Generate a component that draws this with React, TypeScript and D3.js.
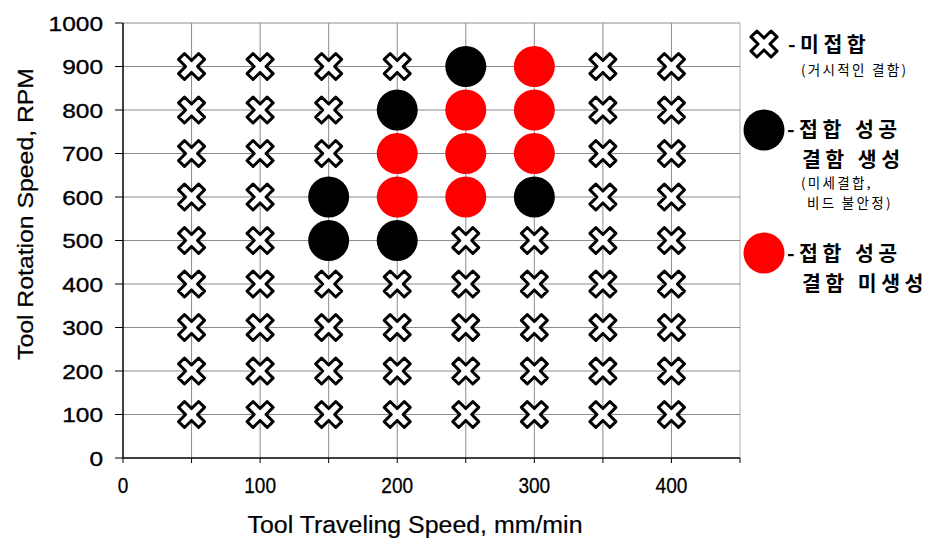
import React from "react";
import * as d3 from "d3";

// traveling speed (mm/min), rotation speed (rpm)
const xTicks = [0, 100, 200, 300, 400];
const yTicks = [0, 100, 200, 300, 400, 500, 600, 700, 800, 900, 1000];

// 미접합 (macro defects)
const crossPoints: [number, number][] = [
  [50, 100], [50, 200], [50, 300], [50, 400], [50, 500], [50, 600], [50, 700], [50, 800], [50, 900],
  [100, 100], [100, 200], [100, 300], [100, 400], [100, 500], [100, 600], [100, 700], [100, 800], [100, 900],
  [150, 100], [150, 200], [150, 300], [150, 400], [150, 700], [150, 800], [150, 900],
  [200, 100], [200, 200], [200, 300], [200, 400], [200, 900],
  [250, 100], [250, 200], [250, 300], [250, 400], [250, 500],
  [300, 100], [300, 200], [300, 300], [300, 400], [300, 500],
  [350, 100], [350, 200], [350, 300], [350, 400], [350, 500], [350, 600], [350, 700], [350, 800], [350, 900],
  [400, 100], [400, 200], [400, 300], [400, 400], [400, 500], [400, 600], [400, 700], [400, 800], [400, 900],
];

// 접합 성공, 결함 생성
const blackPoints: [number, number][] = [
  [150, 500], [150, 600], [200, 500], [200, 800], [250, 900], [300, 600],
];

// 접합 성공, 결함 미생성
const redPoints: [number, number][] = [
  [200, 600], [200, 700], [250, 600], [250, 700], [250, 800], [300, 700], [300, 800], [300, 900],
];

const W = 945;
const H = 546;
const margin = { left: 123, right: 205, top: 23, bottom: 88 };

const x = d3.scaleLinear().domain([0, 450]).range([margin.left, W - margin.right]);
const y = d3.scaleLinear().domain([0, 1000]).range([H - margin.bottom, margin.top]);

// X-shaped marker: a plus sign rotated 45deg
const crossPath = (() => {
  const a = 4.2;
  const b = 14.2;
  const pts = [
    [a, b], [a, a], [b, a], [b, -a], [a, -a], [a, -b],
    [-a, -b], [-a, -a], [-b, -a], [-b, a], [-a, a], [-a, b],
  ];
  const c = Math.SQRT1_2;
  const rot = pts.map(([px, py]) => [(px - py) * c, (px + py) * c]);
  return "M" + rot.map((p) => p.map((v) => v.toFixed(2)).join(",")).join("L") + "Z";
})();

const latin = "'Liberation Sans', Arial, sans-serif";
const korean = "'Noto Sans CJK KR', sans-serif";

const Cross = ({ cx, cy }: { cx: number; cy: number }) => (
  <path
    d={crossPath}
    transform={`translate(${cx},${cy})`}
    fill="#fff"
    stroke="#000"
    strokeWidth={3}
    strokeLinejoin="round"
  />
);

export default function App() {
  const xGrid = d3.range(50, 451, 50);
  const xMinor = d3.range(0, 451, 50);
  const yGrid = d3.range(100, 1001, 100);
  const x0 = x(0);
  const x1 = x(450);
  const y0 = y(0);
  const y1 = y(1000);

  const big = { fontSize: 20.5, fontWeight: 700, letterSpacing: 4.5 };
  const small = { fontSize: 13.5, letterSpacing: 2.3 };

  return (
    <svg
      width={W}
      height={H}
      style={{ position: "absolute", left: 0, top: 0, background: "#fff" }}
    >
      {/* grid */}
      {xGrid.map((v) => (
        <line
          key={"gx" + v}
          x1={x(v)}
          x2={x(v)}
          y1={y0}
          y2={y1}
          stroke={v === 450 ? "#b0b0b0" : "#8c8c8c"}
          strokeWidth={1}
        />
      ))}
      {yGrid.map((v) => (
        <line
          key={"gy" + v}
          x1={x0}
          x2={x1}
          y1={y(v)}
          y2={y(v)}
          stroke="#8c8c8c"
          strokeWidth={1}
        />
      ))}

      {/* axes */}
      <line x1={x0} x2={x0} y1={y0} y2={y1} stroke="#000" strokeWidth={1.5} />
      <line x1={x0} x2={x1} y1={y0} y2={y0} stroke="#000" strokeWidth={1.5} />
      {yTicks.map((v) => (
        <g key={"yt" + v}>
          <line x1={x0 - 8} x2={x0} y1={y(v)} y2={y(v)} stroke="#000" strokeWidth={1} />
          <text
            x={103}
            y={y(v)}
            dy="0.36em"
            textAnchor="end"
            fontFamily={latin}
            fontSize={21}
            textLength={String(v).length * 13.6}
            lengthAdjust="spacingAndGlyphs"
            stroke="#000"
            strokeWidth={0.35}
            fill="#000"
          >
            {v}
          </text>
        </g>
      ))}
      {xMinor.map((v) => (
        <line
          key={"xt" + v}
          x1={x(v)}
          x2={x(v)}
          y1={y0}
          y2={y0 + 5}
          stroke="#000"
          strokeWidth={1}
        />
      ))}
      {xTicks.map((v) => (
        <text
          key={"xl" + v}
          x={x(v)}
          y={493}
          textAnchor="middle"
          fontFamily={latin}
          fontSize={22.5}
          textLength={String(v).length * 10.6}
          lengthAdjust="spacingAndGlyphs"
          stroke="#000"
          strokeWidth={0.3}
          fill="#000"
        >
          {v}
        </text>
      ))}

      {/* axis titles */}
      <text
        x={415}
        y={533}
        textAnchor="middle"
        fontFamily={latin}
        fontSize={23}
        textLength={335}
        lengthAdjust="spacingAndGlyphs"
        stroke="#000"
        strokeWidth={0.2}
        fill="#000"
      >
        Tool Traveling Speed, mm/min
      </text>
      <text
        transform={`translate(33,${214}) rotate(-90)`}
        textAnchor="middle"
        fontFamily={latin}
        fontSize={22}
        textLength={292}
        lengthAdjust="spacingAndGlyphs"
        stroke="#000"
        strokeWidth={0.25}
        fill="#000"
      >
        Tool Rotation Speed, RPM
      </text>

      {/* marks */}
      {crossPoints.map(([px, py], i) => (
        <Cross key={"c" + i} cx={x(px)} cy={y(py)} />
      ))}
      {blackPoints.map(([px, py], i) => (
        <circle key={"b" + i} cx={x(px)} cy={y(py)} r={20.5} fill="#000" />
      ))}
      {redPoints.map(([px, py], i) => (
        <circle key={"r" + i} cx={x(px)} cy={y(py)} r={20.5} fill="#ff0000" />
      ))}

      {/* legend */}
      <g fontFamily={korean} fill="#000">
        <Cross cx={764} cy={44} />
        <text x={788} y={52} {...big}>
          -미접합
        </text>
        <text x={801} y={75} {...small}>
          (거시적인 결함)
        </text>

        <circle cx={764} cy={130} r={20.5} fill="#000" />
        <text x={787} y={136.5} {...big}>
          -접합 성공
        </text>
        <text x={802} y={166.5} {...big}>
          결함 생성
        </text>
        <text x={801} y={188} {...small}>
          (미세결합,
        </text>
        <text x={807} y={208} {...small}>
          비드 불안정)
        </text>

        <circle cx={764} cy={253} r={20.5} fill="#ff0000" />
        <text x={787} y={261} {...big}>
          -접합 성공
        </text>
        <text x={802} y={291} {...big}>
          결함 미생성
        </text>
      </g>
    </svg>
  );
}
